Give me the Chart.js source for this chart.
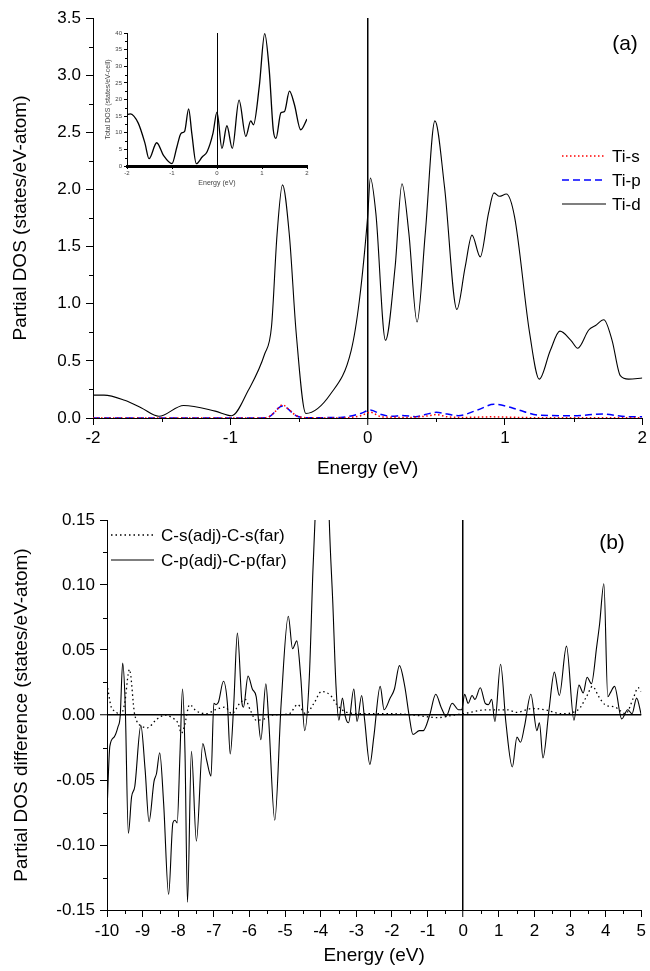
<!DOCTYPE html>
<html><head><meta charset="utf-8">
<script src="https://cdn.jsdelivr.net/npm/chart.js@4.4.1/dist/chart.umd.min.js"></script>
<style>
html,body{margin:0;padding:0;background:#fff;}
#wrap{position:relative;width:650px;height:971px;background:#fff;overflow:hidden;}
canvas{position:absolute;}
</style></head><body>
<div id="wrap">
<canvas id="ca" width="650" height="490" style="left:0;top:0;width:650px;height:490px"></canvas>
<canvas id="ci" width="220" height="170" style="left:95px;top:25px;width:220px;height:170px"></canvas>
<canvas id="cb" width="650" height="481" style="left:0;top:490px;width:650px;height:481px"></canvas>
</div>
<script>
// ---------------- DATA ----------------
// Panel (a): Ti partial DOS
const tiDEnergy = [-2.0,-1.92,-1.77,-1.65,-1.52,-1.34,-1.11,-0.99,-0.87,-0.75,-0.70,-0.66,-0.62,-0.57,-0.52,-0.45,-0.27,-0.12,-0.06,0.0,0.02,0.06,0.13,0.20,0.25,0.30,0.36,0.42,0.49,0.56,0.65,0.71,0.76,0.82,0.88,0.92,0.96,1.01,1.07,1.18,1.25,1.33,1.40,1.48,1.53,1.61,1.66,1.72,1.78,1.84,1.90,2.0];
const tiD       = [0.20,0.20,0.155,0.09,0.015,0.11,0.06,0.02,0.24,0.56,0.80,1.60,2.04,1.60,0.74,0.04,0.21,0.59,1.03,1.76,2.10,1.79,0.68,1.32,2.05,1.62,0.84,1.62,2.60,2.02,0.95,1.32,1.60,1.41,1.79,1.97,1.94,1.96,1.76,0.74,0.34,0.59,0.76,0.68,0.61,0.77,0.81,0.86,0.68,0.37,0.34,0.35];
const tiSEnergy = [-2.0,-0.8,-0.72,-0.67,-0.62,-0.57,-0.52,-0.45,-0.2,-0.05,0.02,0.1,0.3,0.45,0.5,0.58,0.7,0.9,1.2,2.0];
const tiS       = [0.0,0.0,0.01,0.06,0.115,0.07,0.02,0.003,0.0,0.02,0.05,0.01,0.005,0.02,0.03,0.01,0.005,0.01,0.003,0.003];
const tiPEnergy = [-2.0,-0.8,-0.72,-0.62,-0.52,-0.45,-0.2,-0.05,0.02,0.1,0.18,0.25,0.35,0.42,0.5,0.58,0.66,0.8,0.92,1.02,1.1,1.25,1.5,1.72,1.85,2.0];
const tiP       = [0.0,0.0,0.01,0.105,0.02,0.003,0.005,0.04,0.07,0.03,0.015,0.022,0.012,0.03,0.05,0.035,0.02,0.07,0.12,0.1,0.07,0.025,0.02,0.035,0.015,0.01];
// Inset: total DOS
const totEnergy = [-2.0,-1.93,-1.75,-1.60,-1.51,-1.34,-1.19,-1.0,-0.89,-0.80,-0.72,-0.63,-0.56,-0.46,-0.33,-0.22,-0.09,0.0,0.11,0.22,0.34,0.49,0.64,0.75,0.81,0.94,1.06,1.16,1.25,1.31,1.42,1.50,1.61,1.72,1.86,2.0];
const totDOS    = [15.4,15.7,12.9,6.8,2.2,7.0,3.2,0.7,5.8,9.8,10.4,17.2,9.8,0.7,2.7,4.3,9.8,16.2,5.3,12.1,5.3,19.8,8.9,13.6,12.4,24,39.8,29,10.9,8.3,16,16.4,22.5,18.5,10.9,14.1];
// Panel (b): C partial DOS differences
const cpEnergy = [-10,-9.92,-9.80,-9.69,-9.63,-9.56,-9.49,-9.40,-9.31,-9.22,-9.05,-8.93,-8.82,-8.68,-8.61,-8.52,-8.41,-8.27,-8.15,-8.09,-8.03,-7.95,-7.88,-7.81,-7.74,-7.63,-7.49,-7.31,-7.20,-7.08,-7.00,-6.94,-6.87,-6.73,-6.62,-6.54,-6.44,-6.34,-6.21,-6.17,-6.04,-5.92,-5.81,-5.68,-5.54,-5.46,-5.29,-5.11,-4.91,-4.79,-4.67,-4.56,-4.45,-4.32,-4.22,-4.16,-4.05,-3.95,-3.85,-3.76,-3.66,-3.57,-3.49,-3.39,-3.31,-3.22,-3.07,-2.98,-2.85,-2.77,-2.62,-2.51,-2.33,-2.22,-2.05,-1.93,-1.79,-1.64,-1.52,-1.41,-1.23,-1.12,-0.94,-0.77,-0.62,-0.48,-0.31,-0.13,-0.04,0.04,0.14,0.25,0.33,0.48,0.62,0.71,0.80,0.89,1.05,1.20,1.38,1.51,1.61,1.72,1.90,2.07,2.14,2.24,2.41,2.56,2.70,2.90,3.11,3.25,3.37,3.48,3.60,3.75,3.83,3.95,4.06,4.13,4.25,4.45,4.62,4.74,4.87,5.0];
const cpDiff   = [-0.074,-0.024,-0.017,-0.009,-0.001,0.040,0.009,-0.091,-0.063,-0.055,-0.008,-0.042,-0.082,-0.051,-0.045,-0.029,-0.068,-0.138,-0.083,-0.081,-0.083,-0.029,0.020,-0.029,-0.144,-0.028,-0.097,-0.022,-0.035,-0.047,0.009,0.008,0.010,0.026,0.009,-0.030,0.009,0.063,0.009,0.006,0.030,0.020,0.014,-0.019,0.024,-0.004,-0.081,0.009,0.076,0.051,0.057,0.029,-0.012,0.029,0.11,0.15,0.25,0.29,0.25,0.15,0.086,0.022,-0.004,0.013,-0.001,-0.006,0.020,-0.005,0.015,-0.003,-0.038,-0.017,0.022,0.004,0.013,0.020,0.038,0.022,0.0,-0.015,-0.012,-0.012,0.0,0.016,0.006,-0.001,0.009,0.004,0.004,0.016,0.009,0.015,0.012,0.021,0.009,0.008,0.012,-0.005,0.039,-0.006,-0.040,-0.017,-0.021,-0.009,0.016,-0.012,-0.006,-0.033,0.004,0.033,0.015,0.053,-0.004,0.023,0.017,0.029,0.024,0.053,0.070,0.101,0.014,0.017,0.022,-0.003,0.004,0.001,0.013,0.0];
const csEnergy = [-10,-9.88,-9.77,-9.63,-9.51,-9.37,-9.22,-8.99,-8.88,-8.59,-8.36,-8.18,-8.01,-7.91,-7.83,-7.68,-7.49,-7.20,-6.97,-6.68,-6.50,-6.27,-6.12,-5.98,-5.81,-5.58,-5.34,-4.88,-4.65,-4.42,-4.19,-3.98,-3.72,-3.55,-3.26,-2.80,-1.98,-1.41,-0.71,-0.25,0.0,0.68,1.26,1.49,1.95,2.30,2.76,3.23,3.46,3.63,3.81,3.98,4.27,4.56,4.79,4.91,5.0];
const csDiff   = [0.024,0.006,0.003,0.0,0.008,0.035,0.0,-0.009,-0.010,-0.003,0.0,-0.002,-0.006,-0.014,-0.009,0.008,0.003,0.001,0.004,0.006,0.001,0.009,0.012,0.004,-0.004,-0.003,0.0,0.001,0.008,0.001,0.009,0.018,0.015,0.008,0.002,0.001,0.001,0.0,-0.002,0.0,0.001,0.004,0.004,0.002,0.005,0.004,0.001,0.004,0.014,0.022,0.014,0.008,0.006,0.001,0.014,0.021,0.018];

const seriesA = ['Ti-s','Ti-p','Ti-d'];
const seriesB = ['C-s(adj)-C-s(far)','C-p(adj)-C-p(far)'];
const xTitle = 'Energy (eV)';
const yTitleA = 'Partial DOS (states/eV-atom)';
const yTitleB = 'Partial DOS difference (states/eV-atom)';
const yTitleInset = 'Total DOS (states/eV-cell)';

// ---------------- HELPERS ----------------
const FONT = "'Liberation Sans', Arial, Helvetica, sans-serif";
Chart.defaults.font.family = FONT;
Chart.defaults.color = '#000';
const pts = (xs, ys) => xs.map((x, i) => ({x: x, y: ys[i]}));

const minorTicks = {
  id: 'minorTicks',
  afterDraw(chart, args, opts) {
    const ctx = chart.ctx;
    ctx.save();
    ctx.strokeStyle = '#000';
    ctx.lineWidth = 1;
    for (const id of Object.keys(opts.scales || {})) {
      const s = chart.scales[id];
      const o = opts.scales[id];
      const n = Math.round((s.max - s.min) / o.step);
      for (let i = 0; i <= n; i++) {
        const v = s.min + i * o.step;
        const r = v / o.major;
        if (Math.abs(r - Math.round(r)) < 1e-6) continue;
        const p = Math.round(s.getPixelForValue(v)) + 0.5;
        ctx.beginPath();
        if (s.isHorizontal()) { ctx.moveTo(p, s.top); ctx.lineTo(p, s.top + o.len); }
        else { ctx.moveTo(s.right, p); ctx.lineTo(s.right - o.len, p); }
        ctx.stroke();
      }
    }
    ctx.restore();
  }
};

const annot = {
  id: 'annot',
  afterDraw(chart, args, opts) {
    const ctx = chart.ctx;
    ctx.save();
    for (const it of (opts.legend || [])) {
      const ds = chart.data.datasets[it.ds];
      ctx.strokeStyle = ds.borderColor;
      ctx.lineWidth = ds.borderWidth;
      ctx.setLineDash(ds.borderDash || []);
      ctx.beginPath();
      ctx.moveTo(it.x1, it.y); ctx.lineTo(it.x2, it.y);
      ctx.stroke();
      ctx.setLineDash([]);
      ctx.fillStyle = '#000';
      ctx.font = it.font + 'px ' + FONT;
      ctx.textAlign = 'left';
      ctx.textBaseline = 'middle';
      ctx.fillText(ds.label, it.x2 + it.gap, it.y + 1);
    }
    for (const t of (opts.labels || [])) {
      ctx.fillStyle = '#000';
      ctx.font = t.font + 'px ' + FONT;
      ctx.textAlign = 'center';
      ctx.textBaseline = 'middle';
      ctx.fillText(t.text, t.x, t.y);
    }
    ctx.restore();
  }
};

function axis(o) {
  return {
    type: 'linear',
    min: o.min, max: o.max,
    afterFit: s => { if (o.w) s.width = o.w; if (o.h) s.height = o.h; },
    afterBuildTicks: s => { s.ticks = o.ticks.map(v => ({value: v})); },
    ticks: {
      autoSkip: false, maxRotation: 0, minRotation: 0,
      padding: o.tpad, color: o.tcolor || '#000',
      font: {size: o.tsize},
      callback: v => o.fmt(v)
    },
    grid: {
      drawOnChartArea: true,
      drawTicks: true,
      tickLength: o.tlen,
      tickColor: '#000',
      tickWidth: 1,
      color: c => (c.tick && Math.abs(c.tick.value) < 1e-9 && o.zero) ? '#000' : 'rgba(0,0,0,0)',
      lineWidth: c => (c.tick && Math.abs(c.tick.value) < 1e-9 && o.zero) ? o.zero : 1
    },
    border: {display: true, color: '#000', width: o.bw || 1},
    title: {
      display: true, text: o.title, color: o.tcolor || '#000',
      font: {size: o.titleSize},
      padding: o.titlePad
    }
  };
}
const range = (a, b, st) => { const r = []; const n = Math.round((b - a) / st); for (let i = 0; i <= n; i++) r.push(+(a + i * st).toFixed(6)); return r; };
const fmt = d => v => { const s = (Math.abs(v) < 1e-9 ? 0 : v).toFixed(d); return s; };

const baseOpts = {
  responsive: false, animation: false, devicePixelRatio: 1,
  events: [],
};

// ---------------- PANEL (a) ----------------
new Chart(document.getElementById('ca'), {
  type: 'line',
  data: {
    datasets: [
      {label: seriesA[0], data: pts(tiSEnergy, tiS), borderColor: '#ff0000', borderWidth: 1.5, borderDash: [1.5, 2.5], pointRadius: 0, cubicInterpolationMode: 'monotone', fill: false},
      {label: seriesA[1], data: pts(tiPEnergy, tiP), borderColor: '#0000ff', borderWidth: 1.5, borderDash: [7, 4], pointRadius: 0, cubicInterpolationMode: 'monotone', fill: false},
      {label: seriesA[2], data: pts(tiDEnergy, tiD), borderColor: '#000000', borderWidth: 1.1, pointRadius: 0, cubicInterpolationMode: 'monotone', fill: false}
    ]
  },
  options: Object.assign({}, baseOpts, {
    layout: {padding: {left: 0, top: 18, right: 7, bottom: 0}},
    scales: {
      x: axis({min: -2, max: 2, ticks: range(-2, 2, 1), fmt: fmt(0), tsize: 17, tpad: 3, tlen: 7, h: 72, zero: 1.5, title: xTitle, titleSize: 19, titlePad: {top: 0, bottom: 10}}),
      y: axis({min: 0, max: 3.5, ticks: range(0, 3.5, 0.5), fmt: fmt(1), tsize: 17, tpad: 5, tlen: 7, w: 93, title: yTitleA, titleSize: 19, titlePad: {top: 9, bottom: 0}})
    },
    plugins: {
      legend: {display: false}, tooltip: {enabled: false},
      minorTicks: {scales: {x: {step: 0.5, major: 1, len: 4}, y: {step: 0.25, major: 0.5, len: 4}}},
      annot: {
        legend: [
          {ds: 0, x1: 562, x2: 606, y: 156, gap: 6, font: 17},
          {ds: 1, x1: 562, x2: 606, y: 180, gap: 6, font: 17},
          {ds: 2, x1: 562, x2: 606, y: 204, gap: 6, font: 17}
        ],
        labels: [{text: '(a)', x: 625, y: 44, font: 21}]
      }
    }
  }),
  plugins: [minorTicks, annot]
});

// ---------------- INSET ----------------
new Chart(document.getElementById('ci'), {
  type: 'line',
  data: {
    datasets: [
      {label: 'Total', data: pts(totEnergy, totDOS), borderColor: '#000', borderWidth: 1.3, pointRadius: 0, cubicInterpolationMode: 'monotone', fill: false}
    ]
  },
  options: Object.assign({}, baseOpts, {
    layout: {padding: {left: 0, top: 8, right: 8, bottom: 0}},
    scales: {
      x: axis({min: -2, max: 2, ticks: range(-2, 2, 1), fmt: fmt(0), tsize: 6, tpad: 1, tlen: 3, h: 29, zero: 1, bw: 3, tcolor: '#444', title: xTitle, titleSize: 7, titlePad: {top: 0, bottom: 8}}),
      y: axis({min: 0, max: 40, ticks: range(0, 40, 5), fmt: fmt(0), tsize: 6, tpad: 2, tlen: 3, w: 32, tcolor: '#444', title: yTitleInset, titleSize: 7, titlePad: {top: 9, bottom: 0}})
    },
    plugins: {
      legend: {display: false}, tooltip: {enabled: false},
      minorTicks: {scales: {y: {step: 2.5, major: 5, len: 2}}}
    }
  }),
  plugins: [minorTicks]
});

// ---------------- PANEL (b) ----------------
new Chart(document.getElementById('cb'), {
  type: 'line',
  data: {
    datasets: [
      {label: seriesB[0], data: pts(csEnergy, csDiff), borderColor: '#000', borderWidth: 1.3, borderDash: [1.5, 3], pointRadius: 0, cubicInterpolationMode: 'monotone', fill: false},
      {label: seriesB[1], data: pts(cpEnergy, cpDiff), borderColor: '#000', borderWidth: 1.1, pointRadius: 0, cubicInterpolationMode: 'monotone', fill: false}
    ]
  },
  options: Object.assign({}, baseOpts, {
    layout: {padding: {left: 0, top: 30, right: 6, bottom: 0}},
    scales: {
      x: axis({min: -10, max: 5, ticks: range(-10, 5, 1), fmt: fmt(0), tsize: 17, tpad: 4, tlen: 7, h: 61, zero: 1.5, title: xTitle, titleSize: 19, titlePad: {top: 0, bottom: 4}}),
      y: axis({min: -0.15, max: 0.15, ticks: range(-0.15, 0.15, 0.05), fmt: fmt(2), tsize: 17, tpad: 5, tlen: 7, w: 107, zero: 1.5, title: yTitleB, titleSize: 19, titlePad: {top: 10, bottom: 0}})
    },
    plugins: {
      legend: {display: false}, tooltip: {enabled: false},
      minorTicks: {scales: {x: {step: 0.5, major: 1, len: 4}, y: {step: 0.025, major: 0.05, len: 4}}},
      annot: {
        legend: [
          {ds: 0, x1: 111, x2: 154, y: 45, gap: 7, font: 17},
          {ds: 1, x1: 111, x2: 154, y: 70, gap: 7, font: 17}
        ],
        labels: [{text: '(b)', x: 612, y: 53, font: 21}]
      }
    }
  }),
  plugins: [minorTicks, annot]
});
</script>
</body></html>
